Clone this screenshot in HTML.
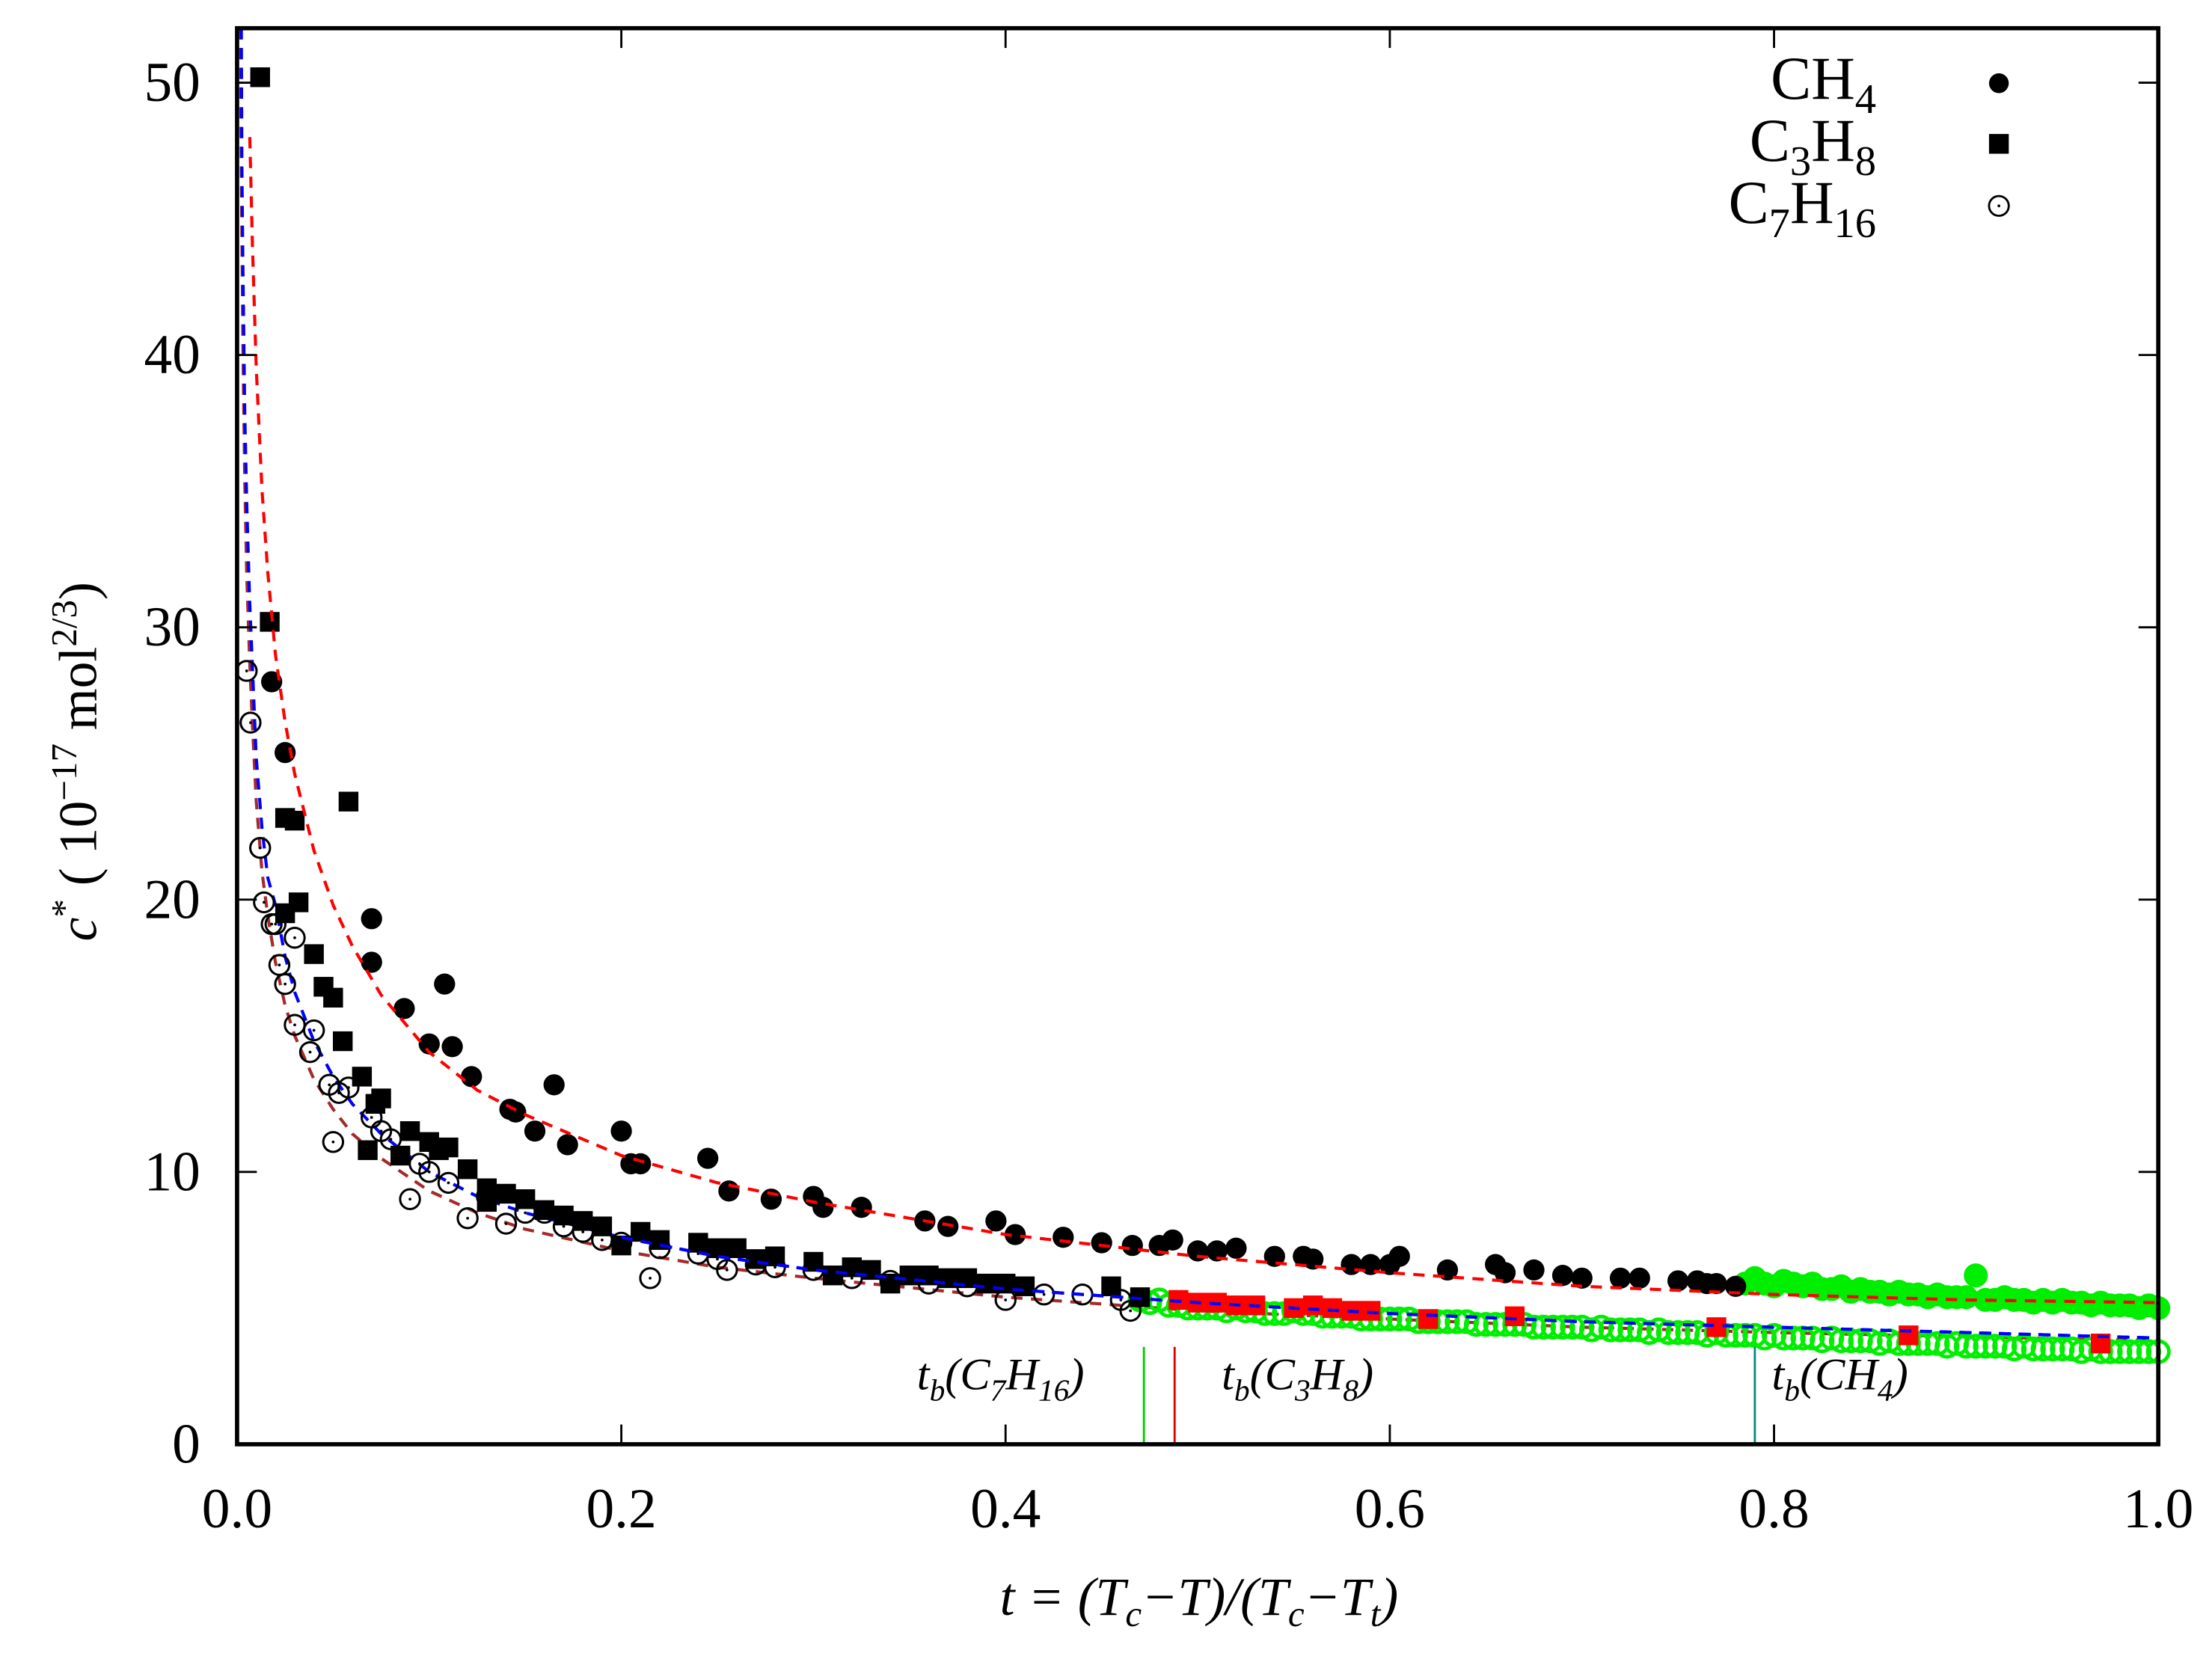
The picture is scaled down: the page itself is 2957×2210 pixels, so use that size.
<!DOCTYPE html>
<html><head><meta charset="utf-8"><style>
html,body{margin:0;padding:0;background:#fff}
svg{display:block}
text{font-family:"Liberation Serif",serif;fill:#000}
</style></head><body>
<svg id="chart" width="2957" height="2210" viewBox="0 0 1568 1172" xmlns="http://www.w3.org/2000/svg">
<rect x="0" y="0" width="1568" height="1172" fill="#fff"/>
<g id="fits"></g>
<g id="pts"></g>
<g id="fits2"></g>
<g id="vlines"></g>
<g id="axes"></g>
<g>
 <text x="1330" y="70" font-size="43" text-anchor="end">CH<tspan font-size="30" dy="10">4</tspan></text>
 <circle cx="1417" cy="59" r="7" fill="#000"/>
 <text x="1330" y="114" font-size="43" text-anchor="end">C<tspan font-size="30" dy="10">3</tspan><tspan dy="-10">H</tspan><tspan font-size="30" dy="10">8</tspan></text>
 <rect x="1410" y="95" width="14" height="14" fill="#000"/>
 <text x="1330" y="158" font-size="43" text-anchor="end">C<tspan font-size="30" dy="10">7</tspan><tspan dy="-10">H</tspan><tspan font-size="30" dy="10">16</tspan></text>
 <circle cx="1417" cy="146" r="7" fill="none" stroke="#000" stroke-width="1.5"/>
 <circle cx="1417" cy="146" r="1" fill="#000"/>
</g>
<text x="850" y="1145" font-size="38" text-anchor="middle" font-style="italic">t = (T<tspan font-size="26" dy="8">c</tspan><tspan dy="-8">−T)/(T</tspan><tspan font-size="26" dy="8">c</tspan><tspan dy="-8">−T</tspan><tspan font-size="26" dy="8">t</tspan><tspan dy="-8">)</tspan></text>
<text transform="translate(68,540) rotate(-90)" font-size="38" text-anchor="middle"><tspan font-style="italic">c</tspan><tspan font-size="26" dy="-14">*</tspan><tspan dy="14"> ( 10</tspan><tspan font-size="26" dy="-14">−17</tspan><tspan dy="14"> mol</tspan><tspan font-size="26" dy="-14">2/3</tspan><tspan dy="14">)</tspan></text>
</svg>
<script>
const xTicks=[0,0.2,0.4,0.6,0.8,1.0];
const xTickLabels=["0.0","0.2","0.4","0.6","0.8","1.0"];
const yTicks=[0,10,20,30,40,50];
const yTickLabels=["0","10","20","30","40","50"];
const ch4T=[0.018,0.025,0.07,0.07,0.087,0.1,0.108,0.112,0.122,0.142,0.145,0.155,0.165,0.172,0.2,0.205,0.21,0.245,0.256,0.278,0.3,0.305,0.325,0.358,0.37,0.395,0.405,0.43,0.45,0.466,0.48,0.487,0.5,0.51,0.52,0.54,0.555,0.56,0.58,0.59,0.6,0.605,0.63,0.655,0.66,0.675,0.69,0.7,0.72,0.73,0.75,0.76,0.765,0.77,0.78];
const ch4C=[28,25.4,19.3,17.7,16,14.7,16.9,14.6,13.5,12.3,12.2,11.5,13.2,11,11.5,10.3,10.3,10.5,9.3,9,9.1,8.7,8.7,8.2,8,8.2,7.7,7.6,7.4,7.3,7.3,7.5,7.1,7.1,7.2,6.9,6.9,6.8,6.6,6.6,6.6,6.9,6.4,6.6,6.3,6.4,6.2,6.1,6.1,6.1,6,6,5.9,5.9,5.8];
const ch4GT=[0.785,0.79,0.795,0.8,0.805,0.81,0.815,0.82,0.825,0.83,0.835,0.84,0.845,0.85,0.855,0.86,0.865,0.87,0.875,0.88,0.885,0.89,0.895,0.9,0.905,0.91,0.915,0.92,0.925,0.93,0.935,0.94,0.945,0.95,0.955,0.96,0.965,0.97,0.975,0.98,0.985,0.99,0.995,1.0];
const ch4GC=[5.9,6.1,5.9,5.8,6.0,5.9,5.8,5.9,5.7,5.7,5.8,5.6,5.7,5.6,5.6,5.5,5.6,5.5,5.5,5.4,5.5,5.4,5.4,5.4,6.2,5.3,5.3,5.4,5.3,5.3,5.2,5.3,5.2,5.3,5.2,5.2,5.1,5.2,5.1,5.1,5.1,5.0,5.1,5.0];
const c3T=[0.012,0.017,0.025,0.03,0.025,0.032,0.04,0.045,0.05,0.055,0.058,0.065,0.068,0.072,0.075,0.085,0.09,0.1,0.105,0.11,0.12,0.13,0.13,0.14,0.15,0.16,0.17,0.18,0.19,0.2,0.21,0.22,0.24,0.25,0.26,0.27,0.28,0.3,0.31,0.32,0.33,0.34,0.35,0.36,0.37,0.38,0.39,0.4,0.41,0.455,0.47];
const c3C=[50.2,30.2,23,22.9,19.5,19.9,18,16.8,16.4,14.8,23.6,13.5,10.8,12.5,12.7,10.6,11.5,11.1,10.8,10.9,10.1,9.4,8.9,9.2,9,8.6,8.4,8.2,8,7.3,7.8,7.5,7.4,7.2,7.2,6.8,6.9,6.7,6.2,6.5,6.4,5.9,6.2,6.2,6.1,6.1,5.9,5.9,5.8,5.8,5.4];
const c3RT=[0.49,0.5,0.51,0.52,0.53,0.55,0.56,0.57,0.58,0.59,0.62,0.665,0.77,0.87,0.97];
const c3RC=[5.3,5.2,5.2,5.1,5.1,5.0,5.1,5.0,4.9,4.9,4.6,4.7,4.3,4.0,3.7];
const c7T=[0.005,0.007,0.012,0.014,0.018,0.02,0.022,0.025,0.03,0.03,0.038,0.04,0.048,0.05,0.053,0.058,0.07,0.075,0.08,0.09,0.095,0.1,0.11,0.12,0.13,0.14,0.15,0.16,0.17,0.18,0.19,0.2,0.215,0.22,0.24,0.25,0.255,0.27,0.28,0.3,0.32,0.34,0.36,0.38,0.4,0.42,0.44,0.46,0.465];
const c7C=[28.4,26.5,21.9,19.9,19.1,19.1,17.6,16.9,18.6,15.4,14.4,15.2,13.2,11.1,12.9,13.1,12,11.5,11.2,9,10.3,10,9.6,8.3,9.1,8.1,8.5,8.5,8,7.8,7.5,7.4,6.1,7.2,7,6.8,6.4,6.6,6.5,6.4,6.1,6,5.9,5.8,5.3,5.5,5.5,5.3,4.9];
const c7GT=[0.47,0.475,0.48,0.485,0.49,0.495,0.5,0.505,0.51,0.515,0.52,0.525,0.53,0.535,0.54,0.545,0.55,0.555,0.56,0.565,0.57,0.575,0.58,0.585,0.59,0.595,0.6,0.605,0.61,0.615,0.62,0.625,0.63,0.635,0.64,0.645,0.65,0.655,0.66,0.665,0.67,0.675,0.68,0.685,0.69,0.695,0.7,0.705,0.71,0.715,0.72,0.725,0.73,0.735,0.74,0.745,0.75,0.755,0.76,0.765,0.77,0.775,0.78,0.785,0.79,0.795,0.8,0.805,0.81,0.815,0.82,0.825,0.83,0.835,0.84,0.845,0.85,0.855,0.86,0.865,0.87,0.875,0.88,0.885,0.89,0.895,0.9,0.905,0.91,0.915,0.92,0.925,0.93,0.935,0.94,0.945,0.95,0.955,0.96,0.965,0.97,0.975,0.98,0.985,0.99,0.995,1.0];
const c7GC=[5.3,5.2,5.3,5.1,5.1,5.0,5.0,5.0,5.0,4.9,
 5.0,4.9,4.9,4.8,4.8,4.8,4.9,4.8,4.8,4.7,
 4.7,4.7,4.7,4.6,4.6,4.6,4.6,4.6,4.6,4.5,
 4.5,4.5,4.5,4.5,4.5,4.4,4.4,4.4,4.4,4.4,
 4.4,4.3,4.3,4.3,4.3,4.3,4.3,4.2,4.3,4.2,
 4.2,4.2,4.2,4.1,4.2,4.1,4.1,4.1,4.1,4.0,
 4.1,4.0,4.0,4.0,4.0,3.9,4.0,3.9,3.9,3.9,
 3.9,3.8,3.9,3.8,3.8,3.8,3.8,3.7,3.8,3.7,
 3.7,3.7,3.7,3.7,3.6,3.7,3.6,3.6,3.6,3.6,
 3.6,3.5,3.6,3.5,3.5,3.5,3.5,3.5,3.4,3.5,
 3.4,3.4,3.4,3.4,3.4,3.4,3.4];
const fitRT=[0.0066,0.008,0.01,0.013,0.016,0.02,0.025,0.03,0.04,0.05,0.06,0.075,0.1,0.125,0.15,0.2,0.25,0.3,0.4,0.5,0.6,0.7,0.8,0.9,1.0];
const fitRC=[48,44,39.5,35,32,29,26.5,24.6,21.8,19.8,18.3,16.5,14.4,13,12.1,10.6,9.6,8.9,7.7,6.9,6.3,5.8,5.5,5.3,5.2];
const fitBT=[0.0022,0.0025,0.003,0.004,0.005,0.0065,0.008,0.01,0.013,0.016,0.02,0.025,0.03,0.04,0.05,0.06,0.075,0.1,0.125,0.15,0.2,0.25,0.3,0.4,0.5,0.6,0.7,0.8,0.9,1.0];
const fitBC=[52,47,43.4,38,34.6,31,28.5,25.2,22.6,20.8,19.8,17.9,16.6,14.8,13.5,12.5,11.4,10,9.1,8.5,7.6,6.9,6.4,5.7,5.2,4.8,4.5,4.3,4.1,3.9];
const fitMT=[0.0018,0.002,0.0025,0.003,0.004,0.005,0.0065,0.008,0.01,0.013,0.016,0.02,0.025,0.03,0.04,0.05,0.06,0.075,0.1,0.125,0.15,0.2,0.25,0.3,0.4,0.5,0.6,0.7,0.8,0.9,1.0];
const fitMC=[52,49,44.5,40.5,35.5,32,28.8,26.4,23.6,21,19.4,17.7,16.1,15,13.4,12.3,11.4,10.5,9.3,8.5,7.9,7.1,6.5,6.1,5.4,4.9,4.6,4.3,4.1,3.95,3.8];
const tbT=[0.472,0.488,0.79];

const X0=168,X1=1530,YB=1024,YT=20,YMAX=52;
const sx=t=>X0+t*(X1-X0);
const sy=c=>YB-c/YMAX*(YB-YT);
const NS="http://www.w3.org/2000/svg";
function mk(tag,attrs,parent){const e=document.createElementNS(NS,tag);for(const k in attrs)e.setAttribute(k,attrs[k]);parent.appendChild(e);return e;}
const fits=document.getElementById('fits'),fits2=document.getElementById('fits2'),pts=document.getElementById('pts'),axes=document.getElementById('axes'),vl=document.getElementById('vlines');

function fitPath(T,C,color,name,parent){
  const d=T.map((t,i)=>(i?'L':'M')+sx(t).toFixed(1)+','+sy(Math.min(C[i],YMAX)).toFixed(1)).join(' ');
  const p=mk('path',{d:d,fill:'none',stroke:color,'stroke-width':2.2,'stroke-dasharray':'8,6'},parent);
  
  
}
fitPath(fitMT,fitMC,'#a52a2a','fit-c7h16',fits);
fitPath(fitBT,fitBC,'#0000ff','fit-c3h8',fits);

function circles(T,C,fill,stroke,name,r,sw){
  const n=Math.min(T.length,C.length);
  for(let i=0;i<n;i++){
    const t=T[i];
    const e=mk('circle',{cx:sx(t),cy:sy(C[i]),r:r,fill:fill,stroke:stroke,'stroke-width':sw},pts);
    
    
    if(fill==='none'&&stroke==='#000'){const d=mk('circle',{cx:sx(t),cy:sy(C[i]),r:1,fill:'#000'},pts);}
  }
}
function squares(T,C,fill,name){
  T.forEach((t,i)=>{
    const e=mk('rect',{x:sx(t)-7,y:sy(C[i])-7,width:14,height:14,fill:fill},pts);
    
    
  });
}
circles(c7GT,c7GC,'none','#00ee00','point-c7h16-green',7.5,2.6);
circles(ch4GT,ch4GC,'#00ee00','none','point-ch4-green',8.5,0);
circles(c7T,c7C,'none','#000','point-c7h16',7,1.6);
squares(c3T,c3C,'#000','point-c3h8');
squares(c3RT,c3RC,'#ff0000','point-c3h8-red');
circles(ch4T,ch4C,'#000','none','point-ch4',7.5,0);
fitPath(fitRT,fitRC,'#ff0000','fit-ch4',fits2);
fitPath(fitBT.slice(20),fitBC.slice(20),'#0000ff','fit-c3h8-overlay',fits2);

const tbColors=['#00cc00','#dd0000','#008b80'];
tbT.forEach((t,i)=>{
  const l=mk('line',{x1:sx(t),x2:sx(t),y1:955,y2:YB,stroke:tbColors[i],'stroke-width':1.5},vl);
  
  
});
const tbLabels=[[650,'C','7','H','16'],[866,'C','3','H','8'],[1256,'CH','4','','']];
tbLabels.forEach(L=>{
  const tx=mk('text',{x:L[0],y:985,'font-size':32,'font-style':'italic'},vl);
  
  
  let h='t<tspan font-size="22" dy="8">b</tspan><tspan dy="-8">('+L[1]+'</tspan><tspan font-size="22" dy="8">'+L[2]+'</tspan>';
  if(L[3])h+='<tspan dy="-8">'+L[3]+'</tspan><tspan font-size="22" dy="8">'+L[4]+'</tspan><tspan dy="-8">)</tspan>';
  else h+='<tspan dy="-8">)</tspan>';
  tx.innerHTML=h;
});

const frame=mk('rect',{x:X0,y:YT,width:X1-X0,height:YB-YT,fill:'none',stroke:'#000','stroke-width':3},axes);


xTicks.forEach((t,i)=>{
  const a=mk('line',{x1:sx(t),x2:sx(t),y1:YB,y2:YB-14,stroke:'#000','stroke-width':1.5},axes);
  
  
  const b=mk('line',{x1:sx(t),x2:sx(t),y1:YT,y2:YT+14,stroke:'#000','stroke-width':1.5},axes);
  
  
  const tx=mk('text',{x:sx(t),y:1083,'font-size':40,'text-anchor':'middle'},axes);
  tx.textContent=xTickLabels[i];
  
  
});
yTicks.forEach((c,i)=>{
  const a=mk('line',{x1:X0,x2:X0+14,y1:sy(c),y2:sy(c),stroke:'#000','stroke-width':1.5},axes);
  
  
  const b=mk('line',{x1:X1,x2:X1-14,y1:sy(c),y2:sy(c),stroke:'#000','stroke-width':1.5},axes);
  
  
  const tx=mk('text',{x:142,y:sy(c)+13,'font-size':40,'text-anchor':'end'},axes);
  tx.textContent=yTickLabels[i];
  
  
});
</script>
</body></html>
